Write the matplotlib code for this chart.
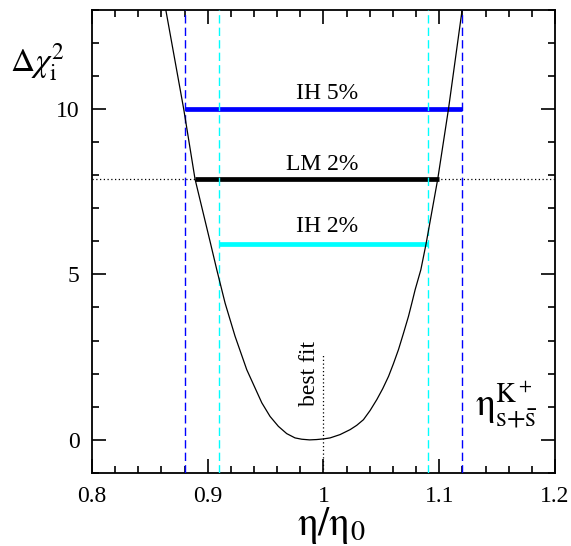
import matplotlib
matplotlib.use("Agg")
import matplotlib.pyplot as plt
import numpy as np

plt.rcParams['font.family'] = ['Liberation Serif', 'DejaVu Serif']
plt.rcParams['mathtext.fontset'] = 'stix'

# Delta chi^2 curve
eta_curve = [0.8637, 0.8792, 0.889, 0.9025, 0.9078, 0.915, 0.9236, 0.9337, 0.9467,
             0.9538, 0.961, 0.9682, 0.9754, 0.9812, 0.988, 0.994, 1.0, 1.0057,
             1.0143, 1.023, 1.0287, 1.0345, 1.0403, 1.0461, 1.0512, 1.0562,
             1.0604, 1.0648, 1.069, 1.0734, 1.0763, 1.0792, 1.0841, 1.0886,
             1.0987, 1.108, 1.1198]
chi2_curve = [13.0, 10.0, 7.88, 5.92, 5.14, 4.13, 3.13, 2.12, 1.12,
              0.71, 0.41, 0.19, 0.06, 0.02, 0.0, 0.01, 0.03, 0.06,
              0.16, 0.31, 0.44, 0.61, 0.89, 1.22, 1.55, 1.92,
              2.30, 2.73, 3.21, 3.73, 4.13, 4.54, 5.14, 5.92,
              7.88, 10.0, 13.0]

# interval bars
bar_labels = ['IH 5%', 'LM 2%', 'IH 2%']
bar_levels = [10.0, 7.88, 5.93]
bar_lo = [0.88, 0.889, 0.91]
bar_hi = [1.12, 1.10, 1.09]
bar_colors = ['#0000ff', '#000000', '#00ffff']
label_x = [1.0027, 0.9988, 1.0027]
label_y = [10.30, 8.16, 6.27]

# vertical dashed limits
blue_limits = [0.88, 1.12]
cyan_limits = [0.91, 1.09]
lm_level = 7.88
best_fit = 1.0
best_fit_top = 2.62

W, H = 571, 546
fig = plt.figure(figsize=(W / 100, H / 100), dpi=100)
ax = fig.add_axes([92 / W, 1 - 473 / H, (555 - 92) / W, (473 - 9.5) / H])

ax.set_xlim(0.8, 1.2)
ax.set_ylim(-1, 13)

# dotted horizontal at LM level
ax.plot([0.8, 1.2], [lm_level, lm_level], color='black', lw=0.9,
        linestyle=(0, (1, 2)), zorder=1)

for lvl, lo, hi, c in zip(bar_levels, bar_lo, bar_hi, bar_colors):
    ax.plot([lo, hi], [lvl, lvl], color=c, lw=3.4, solid_capstyle='butt', zorder=2)

for xv in blue_limits:
    ax.axvline(xv, color='#0000ff', lw=1.0, dashes=(6, 3), zorder=3)
for xv in cyan_limits:
    ax.axvline(xv, color='#00ffff', lw=1.0, dashes=(6, 3), zorder=3)

ax.plot([best_fit, best_fit], [-1, best_fit_top], color='black', lw=0.9,
        linestyle=(0, (1, 2)), zorder=3)

ax.plot(eta_curve, chi2_curve, color='black', lw=0.9, zorder=4,
        solid_joinstyle='round')

for t, xv, yv in zip(bar_labels, label_x, label_y):
    ax.text(xv, yv, t, ha='center', va='baseline', fontsize=17)

ax.text(0.9876, 2.02, 'best fit', rotation=90, ha='center', va='center', fontsize=17)

# ticks
ax.set_xticks([0.8, 0.9, 1.0, 1.1, 1.2])
ax.set_xticklabels(['0.8', '0.9', '1', '1.1', '1.2'])
ax.set_xticks(np.arange(0.8, 1.2001, 0.02), minor=True)
ax.set_yticks([0, 5, 10])
ax.set_yticks(np.arange(-1, 13.5, 1), minor=True)
ax.tick_params(which='both', direction='in', top=True, right=True, width=1.2)
ax.tick_params(which='major', length=10, labelsize=17, pad=9)
ax.tick_params(which='minor', length=5)
for s in ax.spines.values():
    s.set_linewidth(1.3)

fig.text(10 / W, 1 - 71.7 / H, r'$\Delta\chi_{\mathrm{i}}^{2}$', fontsize=24,
         ha='left', va='baseline')
fig.text(297 / W, 1 - 535 / H, r'$\mathrm{\eta/\eta_0}$', fontsize=29,
         ha='left', va='baseline')
fig.text(475 / W, 1 - 417 / H, r'$\mathrm{\eta}_{\mathrm{s{+}\bar{s}}}^{\mathrm{K^+}}$',
         fontsize=28, ha='left', va='baseline')

fig.savefig('out.png', dpi=100)
